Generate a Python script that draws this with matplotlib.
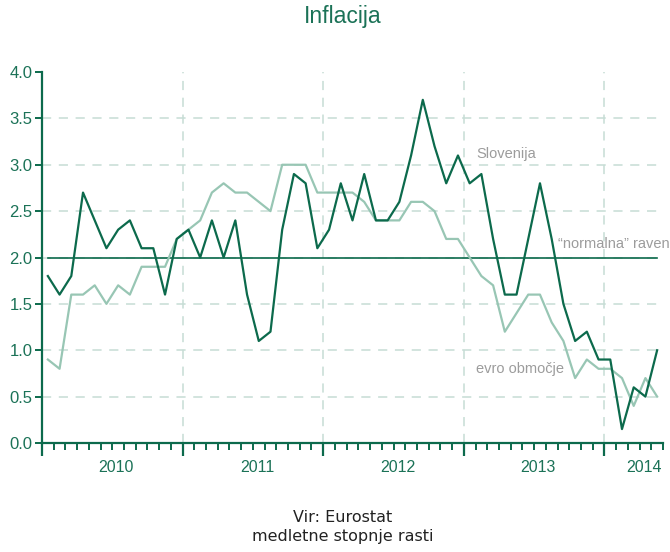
import numpy as np
import matplotlib
matplotlib.use("Agg")
import matplotlib.pyplot as plt
from matplotlib.ticker import FixedLocator, NullFormatter
import matplotlib.transforms as mtransforms

# monthly data, Jan 2010 .. May 2014
slovenija = [1.8, 1.6, 1.8, 2.7, 2.4, 2.1, 2.3, 2.4, 2.1, 2.1, 1.6, 2.2,
             2.3, 2.0, 2.4, 2.0, 2.4, 1.6, 1.1, 1.2, 2.3, 2.9, 2.8, 2.1,
             2.3, 2.8, 2.4, 2.9, 2.4, 2.4, 2.6, 3.1, 3.7, 3.2, 2.8, 3.1,
             2.8, 2.9, 2.2, 1.6, 1.6, 2.2, 2.8, 2.2, 1.5, 1.1, 1.2, 0.9,
             0.9, 0.15, 0.6, 0.5, 1.0]
evro = [0.9, 0.8, 1.6, 1.6, 1.7, 1.5, 1.7, 1.6, 1.9, 1.9, 1.9, 2.2,
        2.3, 2.4, 2.7, 2.8, 2.7, 2.7, 2.6, 2.5, 3.0, 3.0, 3.0, 2.7,
        2.7, 2.7, 2.7, 2.6, 2.4, 2.4, 2.4, 2.6, 2.6, 2.5, 2.2, 2.2,
        2.0, 1.8, 1.7, 1.2, 1.4, 1.6, 1.6, 1.3, 1.1, 0.7, 0.9, 0.8,
        0.8, 0.7, 0.4, 0.7, 0.5]
normalna = 2.0
years = ["2010", "2011", "2012", "2013", "2014"]
yticks = [0.0, 0.5, 1.0, 1.5, 2.0, 2.5, 3.0, 3.5, 4.0]

dark = "#0c6a4c"
light = "#98c6b4"
txtgreen = "#1b7257"
grid = "#c6ddd5"
grey = "#9c9c9c"

plt.rcParams["font.family"] = ["Liberation Sans", "DejaVu Sans"]

fig = plt.figure(figsize=(6.7, 5.52), dpi=100)
ax = fig.add_axes([42 / 670, 1 - 443 / 552, (663 - 42) / 670, (443 - 72) / 552])

n = len(slovenija)
x = np.arange(n)

# grid
for v in yticks[1:-1]:
    ax.plot([-0.5, n - 0.6], [v, v], color=grid, lw=1.1, dashes=(6, 5), zorder=1)
for k in range(1, len(years)):
    ax.axvline(12 * k - 0.5, color=grid, lw=1.1, dashes=(6, 5), zorder=1)

ax.plot(x, evro, color=light, lw=1.6, zorder=3)
ax.plot(x, slovenija, color=dark, lw=1.6, zorder=4)
ax.plot([0, n - 1], [normalna, normalna], color=dark, lw=1.2, zorder=2)

ax.set_xlim(-0.5, n - 0.5)
ax.set_ylim(0, 4)

for s in ["top", "right"]:
    ax.spines[s].set_visible(False)
for s in ["left", "bottom"]:
    ax.spines[s].set_color(dark)
    ax.spines[s].set_linewidth(1.6)

ax.set_yticks(yticks)
ax.set_yticklabels(["%.1f" % v for v in yticks])
ax.tick_params(axis="y", colors=dark, labelcolor=txtgreen, length=5, width=1.4,
               labelsize=12, pad=2)

ax.xaxis.set_major_locator(FixedLocator([12 * k - 0.5 for k in range(len(years))]))
ax.xaxis.set_minor_locator(FixedLocator([m - 0.5 for m in range(n + 1)]))
ax.xaxis.set_major_formatter(NullFormatter())
ax.tick_params(axis="x", which="major", colors=dark, length=9, width=1.6)
ax.tick_params(axis="x", which="minor", colors=dark, length=5, width=1.4)

trans = mtransforms.blended_transform_factory(ax.transData, ax.transAxes)
xpos = [5.85, 17.85, 29.85, 41.85, 50.9]
for lab, xp in zip(years, xpos):
    ax.text(xp, -0.065, lab, transform=trans, ha="center", va="center",
            color=txtgreen, fontsize=11.5)

ax.text(36.6, 3.12, "Slovenija", color=grey, fontsize=10.5, ha="left", va="center")
ax.text(36.5, 0.8, "evro območje", color=grey, fontsize=10.5, ha="left", va="center")
ax.text(53.1, 2.07, "\u201cnormalna\u201d raven", color=grey, fontsize=10.5,
        ha="right", va="bottom", clip_on=False)

cx = 343 / 670
fig.text(cx, 1 - 16 / 552, "Inflacija", color=txtgreen, fontsize=16.5,
         ha="center", va="center")
fig.text(cx, 1 - 517 / 552, "Vir: Eurostat", color="#222222", fontsize=11.5,
         ha="center", va="center", family=["DejaVu Sans"])
fig.text(cx, 1 - 537 / 552, "medletne stopnje rasti", color="#222222",
         fontsize=11.5, ha="center", va="center", family=["DejaVu Sans"])

fig.savefig("out.png", dpi=100)
